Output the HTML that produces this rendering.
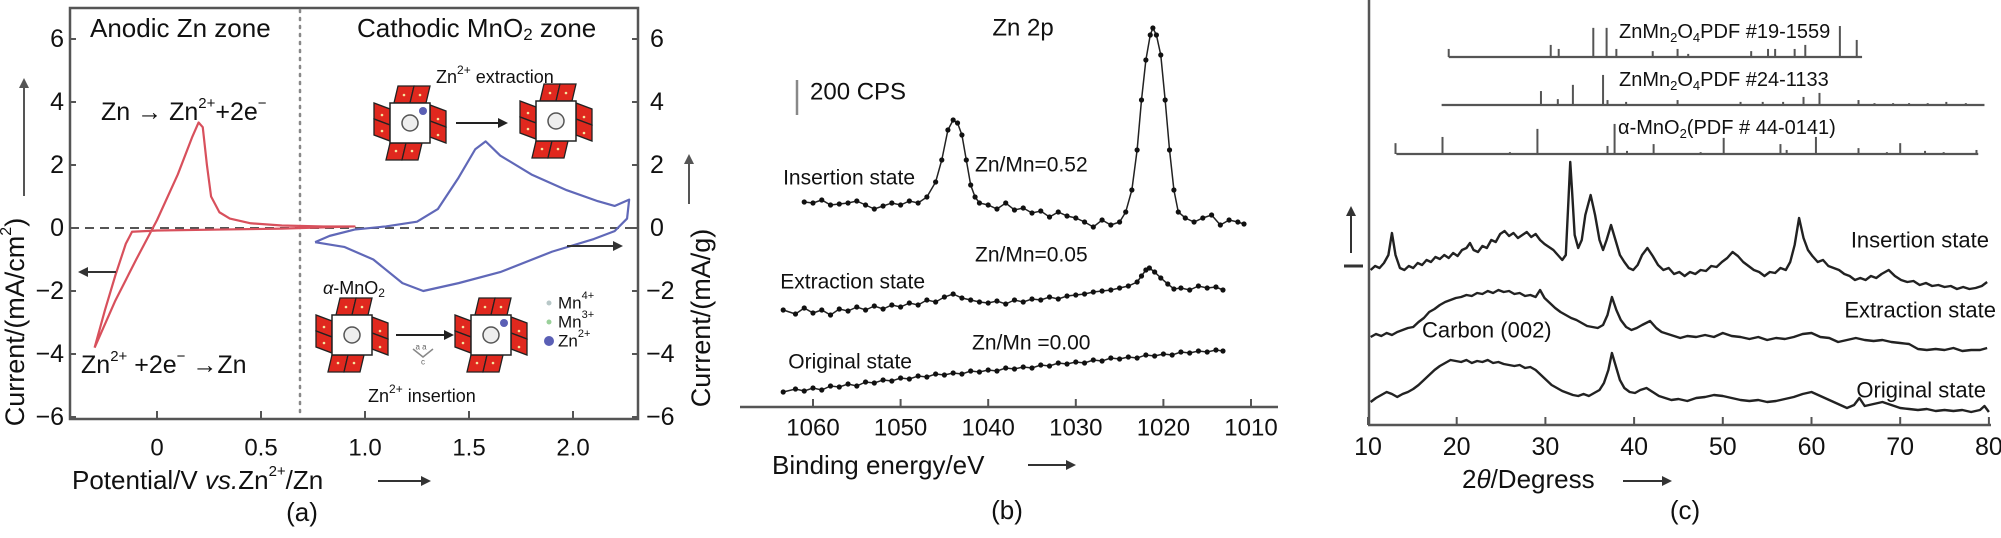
<!DOCTYPE html>
<html><head><meta charset="utf-8"><style>
html,body{margin:0;padding:0;background:#fff;}
svg{display:block;font-family:"Liberation Sans",Arial,sans-serif;}
</style></head><body>
<svg id="fig" width="2001" height="538" viewBox="0 0 2001 538" xmlns="http://www.w3.org/2000/svg"></svg>
<script>
// ---------- Panel (a) data ----------
const aXTicks=[0,0.5,1.0,1.5,2.0];
const aXTickLabels=["0","0.5","1.0","1.5","2.0"];
const aYTicks=[6,4,2,0,-2,-4,-6];
const aYTickLabels=["6","4","2","0","\u22122","\u22124","\u22126"];
const znV=[-0.3,-0.2,-0.1,0,0.1,0.17,0.2,0.22,0.24,0.26,0.3,0.35,0.45,0.6,0.8,0.95,0.6,0.3,0,-0.12,-0.15,-0.2,-0.25,-0.3];
const znI=[-3.8,-2.3,-1.0,0.25,1.7,2.9,3.35,3.2,2.0,1.0,0.5,0.3,0.15,0.08,0.05,0.05,-0.02,-0.05,-0.08,-0.12,-0.5,-1.5,-2.6,-3.8];
const mnV=[0.76,0.83,0.95,1.1,1.25,1.35,1.45,1.53,1.58,1.65,1.8,1.97,2.12,2.2,2.27,2.26,2.2,2.1,1.9,1.65,1.45,1.28,1.18,1.04,0.9,0.76];
const mnI=[-0.45,-0.25,-0.05,0.05,0.2,0.6,1.6,2.5,2.75,2.3,1.7,1.2,0.85,0.7,0.9,0.3,-0.1,-0.35,-0.75,-1.4,-1.75,-2.0,-1.75,-1.0,-0.6,-0.45];
// ---------- Panel (b) data ----------
const bTicks=[1060,1050,1040,1030,1020,1010];
const bTickLabels=["1060","1050","1040","1030","1020","1010"];
const insE=[1061,1060,1059,1058,1057,1056,1055,1054,1053,1052,1051,1050,1049,1048,1047,1046,1045.3,1044.6,1044,1043.5,1043,1042.5,1042,1041.5,1041,1040,1039,1038,1037,1036,1035,1034,1033,1032,1031,1030,1029,1028,1027,1026,1025,1024.3,1023.6,1023,1022.5,1022,1021.5,1021.2,1020.8,1020.3,1019.8,1019.3,1018.8,1018.3,1017.5,1016.5,1015.5,1014.5,1013.5,1012.5,1011.5,1010.8];
const insCps=[1090,1085,1100,1075,1080,1085,1095,1075,1055,1070,1085,1075,1095,1085,1115,1190,1300,1450,1500,1485,1425,1300,1175,1115,1085,1075,1055,1085,1050,1060,1035,1045,1015,1040,1020,1010,990,965,1000,975,990,1040,1150,1350,1600,1800,1925,1960,1925,1825,1600,1350,1150,1040,1010,990,1010,1025,975,1000,990,980];
const extE=[1063.4,1062,1061,1060,1059,1058,1057,1056,1055,1054,1053,1052,1051,1050,1049,1048,1047,1046,1045,1044,1043,1042,1041,1040,1039,1038,1037,1036,1035,1034,1033,1032,1031,1030,1029,1028,1027,1026,1025,1024,1023,1022.5,1022,1021.6,1021,1020.3,1019.5,1018.8,1018,1017,1016,1015,1014,1013.2];
const extCps=[550,530,560,535,550,525,555,545,565,550,570,555,575,565,585,575,600,590,615,630,610,600,590,585,595,580,600,590,605,600,615,605,620,625,630,640,645,650,660,670,690,720,750,760,740,710,680,655,660,650,670,660,665,650];
const oriE=[1063.4,1062,1061,1060,1059,1058,1057,1056,1055,1054,1053,1052,1051,1050,1049,1048,1047,1046,1045,1044,1043,1042,1041,1040,1039,1038,1037,1036,1035,1034,1033,1032,1031,1030,1029,1028,1027,1026,1025,1024,1023,1022,1021,1020,1019,1018,1017,1016,1015,1014,1013.2];
const oriCps=[140,155,145,160,150,170,165,180,170,190,185,200,195,210,205,220,215,230,225,235,230,245,240,250,245,260,255,265,260,275,270,285,280,290,285,300,295,310,305,315,310,325,320,330,325,340,335,345,340,350,345];
// ---------- Panel (c) data ----------
const cTicks=[10,20,30,40,50,60,70,80];
const cTickLabels=["10","20","30","40","50","60","70","80"];
const pdf19Pos=[19.1,30.6,31.5,35.4,36.9,38.0,42.1,44.9,46.1,53.2,55.1,55.9,58.1,59.3,63.2,65.1];
const pdf19Int=[26,39,26,94,94,26,19,26,10,19,26,26,26,39,100,55];
const pdf24Pos=[29.5,31.4,33.1,36.5,37.0,39.1,44.9,52.0,54.5,56.8,59.1,60.9,65.3,67.1,69.2,71.0,73.1,75.2,77.4];
const pdf24Int=[45,19,65,97,16,10,16,10,10,10,26,39,16,6,6,6,6,10,6];
const mno2Pos=[13.1,18.4,26.0,29.1,37.0,37.8,39.2,42.2,47.5,50.1,56.5,57.2,60.5,65.3,68.5,70.0,72.8,74.9,78.6];
const mno2Int=[35,55,6,81,26,97,10,32,6,52,32,13,55,19,6,35,10,6,13];
const xrdInsDeg=[10.3,10.8,11.3,11.8,12.3,12.7,13.1,13.6,14.1,14.6,15.1,15.6,16.1,16.6,17.1,17.6,18.1,18.6,19.1,19.6,20.1,20.6,21.1,21.5,21.9,22.4,22.9,23.4,23.9,24.4,24.9,25.4,25.9,26.4,26.9,27.4,27.9,28.4,28.9,29.4,29.9,30.4,30.9,31.4,31.9,32.3,32.6,32.8,33.0,33.3,33.7,34.1,34.5,35.1,35.6,36.1,36.5,36.9,37.4,37.9,38.4,38.9,39.4,39.9,40.4,40.9,41.5,42.1,42.7,43.3,43.9,44.5,45.1,45.7,46.3,46.9,47.5,48.1,48.7,49.3,49.9,50.5,51.1,51.7,52.3,52.9,53.5,54.1,54.7,55.3,55.9,56.5,57.1,57.6,58.1,58.6,59.1,59.6,60.1,60.7,61.3,61.9,62.5,63.1,63.7,64.3,64.9,65.5,66.1,66.7,67.3,67.9,68.7,69.4,70.1,70.8,71.5,72.2,72.9,73.6,74.3,75,75.7,76.4,77.1,77.8,78.5,79.2,79.8];
const xrdInsInt=[230,234,232,237,245,267,245,232,230,234,232,237,235,240,238,243,241,245,242,247,244,250,252,257,250,248,254,252,260,258,266,269,264,267,262,265,268,263,266,260,256,253,250,245,240,245,300,338,310,265,252,260,285,305,285,260,250,260,275,260,245,238,232,230,235,245,252,244,235,230,232,226,228,224,228,226,230,229,234,233,238,242,248,244,238,234,230,228,224,228,227,232,230,238,255,282,262,250,244,238,240,234,232,230,226,224,220,222,220,224,222,226,230,224,220,218,219,215,217,214,215,213,214,211,213,211,212,214,218];
const xrdExtDeg=[10.3,10.9,11.5,12.1,12.7,13.3,13.9,14.5,15.1,15.7,16.3,16.9,17.5,18.1,18.7,19.3,19.9,20.5,21.1,21.7,22.3,22.9,23.5,24.1,24.7,25.3,25.9,26.5,27.1,27.7,28.3,28.9,29.4,29.9,30.5,31.1,31.7,32.3,32.9,33.5,34.1,34.7,35.3,35.9,36.5,37.0,37.5,38.0,38.5,39.1,39.7,40.3,40.9,41.8,42.5,43.1,43.8,44.5,45.2,46,47,48,49,50,51,52,53,54,55,56,57,58,59,60,61,62,63,64,65,66,67,68,69,70,71,72,73,74,75,76,77,78,79,79.8];
const xrdExtInt=[163,166,164,167,165,168,170,172,173,178,182,188,191,195,198,200,202,203,205,204,207,206,209,207,210,208,209,206,207,204,205,203,210,202,197,192,188,185,182,180,177,174,173,172,175,185,203,190,180,173,170,172,175,179,172,168,166,164,162,164,163,165,163,167,164,163,161,163,160,162,161,163,166,167,163,162,158,160,162,160,159,160,158,157,156,151,150,151,150,152,149,150,150,152];
const xrdOriDeg=[10.3,10.9,11.5,12.1,12.7,13.3,13.9,14.5,15.1,15.7,16.3,16.9,17.5,18.1,18.7,19.3,19.9,20.5,21.1,21.7,22.3,22.9,23.5,24.1,24.7,25.3,25.9,26.5,27.1,27.7,28.3,28.9,29.5,30.1,30.7,31.3,31.9,32.5,33.1,33.7,34.3,34.9,35.5,36.1,36.6,37.1,37.5,37.9,38.4,38.9,39.5,40.1,40.7,41.4,42.1,42.8,43.5,44.2,45,46,47,48,49,50,51,52,53,54,55,56,57,58,59,60,61,62,63,64,64.8,65.4,66,67,68,69,70,71,72,73,74,75,76,77,78,79,79.5,80];
const xrdOriInt=[98,102,105,108,106,103,106,108,111,115,120,125,130,134,137,140,139,138,140,137,139,138,140,137,138,136,135,134,135,132,133,130,125,120,115,112,109,107,105,104,106,104,107,110,117,130,147,135,120,112,108,107,110,112,108,104,102,100,101,99,102,103,105,104,102,100,99,100,98,99,101,103,106,108,104,100,96,92,95,102,94,96,98,95,92,91,90,91,89,90,89,90,88,90,94,88];

const NS="http://www.w3.org/2000/svg";
const svg=document.getElementById('fig');
function el(tag,attrs,parent){const e=document.createElementNS(NS,tag);for(const k in attrs)e.setAttribute(k,attrs[k]);(parent||svg).appendChild(e);return e;}
function txt(s,x,y,size,parent,anchor,extra){const t=el('text',Object.assign({x:x,y:y,'font-size':size,'text-anchor':anchor||'start','dominant-baseline':'central',fill:'#111'},extra||{}),parent);t.innerHTML=s;return t;}
function arrowHead(x,y,dir,g,c){const s=5;let p;
 if(dir==='r')p=`${x},${y} ${x-10},${y-s} ${x-10},${y+s}`;
 if(dir==='l')p=`${x},${y} ${x+10},${y-s} ${x+10},${y+s}`;
 if(dir==='u')p=`${x},${y} ${x-s},${y+10} ${x+s},${y+10}`;
 el('polygon',{points:p,fill:c||'#333'},g);}

// ===== Panel A =====
const xA=v=>157+208*v, yA=i=>228-31.5*i;
const gA=el('g',{});


const frame=el('rect',{x:70,y:8,width:568,height:411,fill:'none',stroke:'#555','stroke-width':2.5},gA);

aXTicks.forEach((v,i)=>{el('line',{x1:xA(v),x2:xA(v),y1:419,y2:411,stroke:'#555','stroke-width':2},gA);
 const t=txt(aXTickLabels[i],xA(v),448,24,gA,'middle');});
aYTicks.forEach((v,i)=>{el('line',{x1:70,x2:76,y1:yA(v),y2:yA(v),stroke:'#555','stroke-width':2},gA);
 el('line',{x1:632,x2:638,y1:yA(v),y2:yA(v),stroke:'#555','stroke-width':2},gA);
 const t=txt(aYTickLabels[i],64,yA(v),25,gA,'end');
 const t2=txt(aYTickLabels[i],v<0?646:650,yA(v),25,gA,'start');});
const zl=el('line',{x1:70,x2:638,y1:yA(0),y2:yA(0),stroke:'#555','stroke-width':2,'stroke-dasharray':'9,6'},gA);

const dv=el('line',{x1:300,x2:300,y1:10,y2:417,stroke:'#888','stroke-width':2.5,'stroke-dasharray':'2,6','stroke-linecap':'round'},gA);

const rc=el('polyline',{points:znV.map((v,i)=>xA(v)+','+yA(znI[i])).join(' '),fill:'none',stroke:'#d8505c','stroke-width':2.2,'stroke-linejoin':'round'},gA);

const bc=el('polyline',{points:mnV.map((v,i)=>xA(v)+','+yA(mnI[i])).join(' '),fill:'none',stroke:'#6068b8','stroke-width':2.2,'stroke-linejoin':'round'},gA);

// arrows
el('line',{x1:116,x2:82,y1:272,y2:272,stroke:'#333','stroke-width':2},gA);arrowHead(78,272,'l',gA);
el('line',{x1:567,x2:618,y1:246,y2:246,stroke:'#333','stroke-width':2},gA);arrowHead(623,246,'r',gA);
// labels
let t;
t=txt('Anodic Zn zone',90,28,26,gA);
t=txt('Cathodic MnO<tspan font-size="17" dy="6">2</tspan><tspan dy="-6"> zone</tspan>',357,28,26,gA);
t=txt('Zn → Zn<tspan font-size="15" dy="-9">2+</tspan><tspan dy="9">+2e</tspan><tspan font-size="15" dy="-9">−</tspan>',101,112,25,gA);
t=txt('Zn<tspan font-size="15" dy="-9">2+</tspan><tspan dy="9"> +2e</tspan><tspan font-size="15" dy="-9">−</tspan><tspan dy="9"> →Zn</tspan>',81,365,25,gA);
t=txt('Zn<tspan font-size="12" dy="-7">2+</tspan><tspan dy="7"> extraction</tspan>',436,77,18,gA);
t=txt('<tspan font-style="italic">α</tspan>-MnO<tspan font-size="12" dy="5">2</tspan>',323,288,18,gA);
t=txt('Zn<tspan font-size="12" dy="-7">2+</tspan><tspan dy="7"> insertion</tspan>',368,396,18,gA);
// legend
[['Mn<tspan font-size="11" dy="-7">4+</tspan>',303,'#b8c8c8',2.5],['Mn<tspan font-size="11" dy="-7">3+</tspan>',322,'#9ad09a',2.5],['Zn<tspan font-size="11" dy="-7">2+</tspan>',341,'#5a5fb5',5]].forEach(a=>{
 el('circle',{cx:549,cy:a[1],r:a[3],fill:a[2]},gA);
 const lt=txt(a[0],558,a[1],17,gA);});
// crystal icons
function crystal(cx,cy,zn){const g=el('g',{transform:`translate(${cx},${cy})`},gA);
 
 const R='#e0281e',S='#222';
 const par=(pts)=>el('polygon',{points:pts,fill:R,stroke:S,'stroke-width':1.3},g);
 par('-16,-20 0,-20 4,-37 -12,-37');par('0,-20 16,-20 20,-37 4,-37');
 par('-20,20 -4,20 -8,37 -24,37');par('-4,20 12,20 8,37 -8,37');
 par('-20,-14 -20,2 -36,-4 -36,-20');par('-20,2 -20,18 -36,12 -36,-4');
 par('20,-18 20,-2 36,4 36,-12');par('20,-2 20,14 36,20 36,4');
 el('rect',{x:-20,y:-20,width:40,height:40,fill:'#fff',stroke:S,'stroke-width':1.5},g);
 el('circle',{cx:0,cy:0,r:8,fill:'#eee',stroke:'#555','stroke-width':1.5},g);
 [[-6,-28],[10,-28],[-14,28],[2,28],[-28,-8],[-28,8],[28,-4],[28,12]].forEach(p=>el('circle',{cx:p[0],cy:p[1],r:1.3,fill:'#f5e6a0'},g));
 if(zn)el('circle',{cx:13,cy:-12,r:4,fill:'#5a5fb5'},g);}
crystal(410,123,true);crystal(556,121,false);crystal(352,335,false);crystal(491,335,true);
el('line',{x1:456,x2:500,y1:123,y2:123,stroke:'#222','stroke-width':2},gA);arrowHead(508,123,'r',gA,'#222');
el('line',{x1:396,x2:446,y1:335,y2:335,stroke:'#222','stroke-width':2},gA);arrowHead(454,335,'r',gA,'#222');
txt('a  a',421,347,8,gA,'middle',{fill:'#666'});txt('c',423,362,8,gA,'middle',{fill:'#666'});
el('polyline',{points:'413,349 423,357 433,349',fill:'none',stroke:'#888','stroke-width':1.5},gA);
// axis titles
t=txt('Potential/V <tspan font-style="italic">vs.</tspan>Zn<tspan font-size="15" dy="-9">2+</tspan><tspan dy="9">/Zn</tspan>',72,480,26,gA);
el('line',{x1:378,x2:425,y1:481,y2:481,stroke:'#333','stroke-width':2},gA);arrowHead(431,481,'r',gA);
t=txt('Current/(mA/cm<tspan font-size="16" dy="-9">2</tspan><tspan dy="9">)</tspan>',15,322,27,gA,'middle',{transform:'rotate(-90 15 322)'});
el('line',{x1:24,x2:24,y1:196,y2:86,stroke:'#555','stroke-width':2},gA);arrowHead(24,78,'u',gA,'#555');
t=txt('Current/(mA/g)',701,318,27,gA,'middle',{transform:'rotate(-90 701 318)'});
el('line',{x1:689,x2:689,y1:204,y2:162,stroke:'#555','stroke-width':2},gA);arrowHead(689,154,'u',gA,'#555');
t=txt('(a)',302,512,26,gA,'middle');

// ===== Panel B =====
const xB=e=>813+(1060-e)*8.76, yB=c=>420-0.2*c;
const gB=el('g',{});


const axB=el('line',{x1:740,x2:1278,y1:407,y2:407,stroke:'#555','stroke-width':2.5},gB);

bTicks.forEach((v,i)=>{el('line',{x1:xB(v),x2:xB(v),y1:407,y2:399,stroke:'#555','stroke-width':2},gB);
 const tt=txt(bTickLabels[i],xB(v),428,24,gB,'middle');});
function xps(E,C,name){const g=el('g',{},gB);
 el('polyline',{points:E.map((e,i)=>xB(e)+','+yB(C[i])).join(' '),fill:'none',stroke:'#222','stroke-width':1.5},g);
 E.forEach((e,i)=>{const c=el('circle',{cx:xB(e),cy:yB(C[i]),r:2.6,fill:'#111'},g);});}
xps(insE,insCps,'insertion-spectrum');xps(extE,extCps,'extraction-spectrum');xps(oriE,oriCps,'original-spectrum');
t=txt('Zn 2p',1023,28,24,gB,'middle');
el('line',{x1:797,x2:797,y1:80,y2:115,stroke:'#888','stroke-width':2.5},gB);
t=txt('200 CPS',810,92,24,gB);
t=txt('Insertion state',915,178,21,gB,'end');
t=txt('Zn/Mn=0.52',975,165,21,gB);
t=txt('Extraction state',925,282,21,gB,'end');
t=txt('Zn/Mn=0.05',975,255,21,gB);
t=txt('Original state',912,362,21,gB,'end');
t=txt('Zn/Mn =0.00',972,343,21,gB);
t=txt('Binding energy/eV',772,465,26,gB);
el('line',{x1:1028,x2:1070,y1:465,y2:465,stroke:'#333','stroke-width':2},gB);arrowHead(1076,465,'r',gB);
t=txt('(b)',1007,510,26,gB,'middle');

// ===== Panel C =====
const xC=d=>1368+(d-10)*8.87, yC=v=>500-v;
const gC=el('g',{});


const yax=el('line',{x1:1369,x2:1369,y1:0,y2:425,stroke:'#555','stroke-width':2.5},gC);

const xax=el('line',{x1:1368,x2:1991,y1:425,y2:425,stroke:'#555','stroke-width':2.5},gC);

cTicks.forEach((v,i)=>{el('line',{x1:xC(v),x2:xC(v),y1:425,y2:417,stroke:'#555','stroke-width':2},gC);
 const tt=txt(cTickLabels[i],xC(v),447,25,gC,'middle');});
function sticks(P,I,base,x0,x1,name){const g=el('g',{},gC);
 el('line',{x1:xC(x0),x2:xC(x1),y1:base,y2:base,stroke:'#555','stroke-width':2.2},g);
 P.forEach((p,i)=>el('line',{x1:xC(p),x2:xC(p),y1:base,y2:base-I[i]*0.31,stroke:'#555','stroke-width':2},g));}
sticks(pdf19Pos,pdf19Int,57,19.1,65.7,'pdf-19-1559-sticks');
sticks(pdf24Pos,pdf24Int,105,18.3,79.5,'pdf-24-1133-sticks');
sticks(mno2Pos,mno2Int,154,13.2,78.8,'mno2-44-0141-sticks');
t=txt('ZnMn<tspan font-size="13" dy="5">2</tspan><tspan dy="-5">O</tspan><tspan font-size="13" dy="5">4</tspan><tspan dy="-5">PDF #19-1559</tspan>',1619,32,20,gC);
t=txt('ZnMn<tspan font-size="13" dy="5">2</tspan><tspan dy="-5">O</tspan><tspan font-size="13" dy="5">4</tspan><tspan dy="-5">PDF #24-1133</tspan>',1619,80,20,gC);
t=txt('α-MnO<tspan font-size="13" dy="5">2</tspan><tspan dy="-5">(PDF # 44-0141)</tspan>',1618,128,20,gC);
function xrd(D,I,name){const p=el('polyline',{points:D.map((d,i)=>xC(d)+','+yC(I[i])).join(' '),fill:'none',stroke:'#222','stroke-width':2.4,'stroke-linejoin':'round'},gC);
 }
xrd(xrdInsDeg,xrdInsInt,'insertion-pattern');xrd(xrdExtDeg,xrdExtInt,'extraction-pattern');xrd(xrdOriDeg,xrdOriInt,'original-pattern');
t=txt('Insertion state',1989,240,22,gC,'end');
t=txt('Extraction state',1996,310,22,gC,'end');
t=txt('Original state',1986,390,22,gC,'end');
t=txt('Carbon (002)',1422,330,22,gC);
el('line',{x1:1351,x2:1351,y1:253,y2:215,stroke:'#333','stroke-width':2},gC);arrowHead(1351,206,'u',gC);
el('line',{x1:1344,x2:1363,y1:266,y2:266,stroke:'#333','stroke-width':3},gC);
t=txt('2<tspan font-style="italic">θ</tspan>/Degress',1462,479,26,gC);
el('line',{x1:1623,x2:1666,y1:481,y2:481,stroke:'#333','stroke-width':2},gC);arrowHead(1672,481,'r',gC);
t=txt('(c)',1685,510,26,gC,'middle');
</script>
</body></html>
